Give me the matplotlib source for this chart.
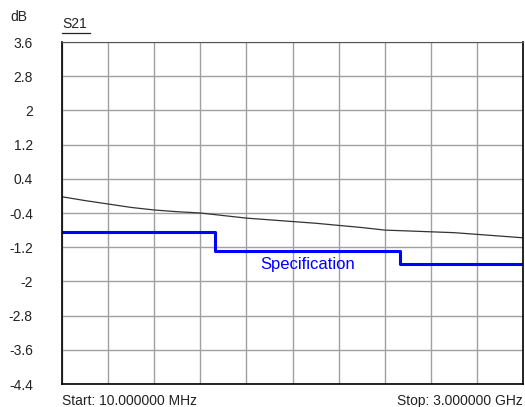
import numpy as np
import matplotlib.pyplot as plt

plt.rcParams['font.family'] = ['Liberation Sans', 'DejaVu Sans']

# S21 trace, frequency in MHz
freq = [10, 160, 310, 459, 609, 758, 908, 1057, 1207, 1357, 1506, 1656,
        1805, 1955, 2104, 2254, 2403, 2553, 2703, 2852, 3000]
s21 = [-0.02, -0.11, -0.19, -0.27, -0.33, -0.37, -0.40, -0.46, -0.52, -0.56,
       -0.60, -0.64, -0.69, -0.74, -0.80, -0.82, -0.84, -0.86, -0.90, -0.94, -0.98]

# specification limit steps
spec_freq = [10, 1000, 1000, 2200, 2200, 3000]
spec_db = [-0.85, -0.85, -1.3, -1.3, -1.6, -1.6]

yticks = [3.6, 2.8, 2, 1.2, 0.4, -0.4, -1.2, -2, -2.8, -3.6, -4.4]
ytick_labels = ["3.6", "2.8", "2", "1.2", "0.4", "-0.4", "-1.2", "-2", "-2.8", "-3.6", "-4.4"]

W, H = 525, 407
fig = plt.figure(figsize=(W / 100, H / 100), dpi=100)
ax = fig.add_axes([62 / W, 1 - 384 / H, 461 / W, 342 / H])

ax.plot(freq, s21, color='#333333', lw=0.9)
ax.plot(spec_freq, spec_db, color='#0000ff', lw=2.2)
ax.text(1602, -1.71, "Specification", color='#0000ff', fontsize=12,
        ha='center', va='baseline')

ax.set_xlim(10, 3000)
ax.set_ylim(-4.4, 3.6)
ax.set_xticks(np.linspace(10, 3000, 11))
ax.set_xticklabels([])
ax.set_yticks(yticks)
ax.set_yticklabels(ytick_labels, fontsize=10, color='#222222')
ax.tick_params(length=0)
ax.tick_params(axis='y', pad=21)
ax.grid(True, color='#a0a0a0', lw=1)
for side in ['left', 'bottom', 'right']:
    ax.spines[side].set_color('black')
    ax.spines[side].set_linewidth(1.2)
ax.spines['top'].set_color('#555555')

fig.text(10 / W, 1 - 21 / H, "dB", fontsize=10, va='baseline', color='#222222')
fig.text(62 / W, 1 - 28 / H, "S21", fontsize=10, va='baseline', color='#222222')
fig.add_artist(plt.Line2D([62 / W, 90 / W], [1 - 33 / H, 1 - 33 / H],
                          color='#222222', lw=0.9))
fig.text(62 / W, 1 - 405 / H, "Start: 10.000000 MHz", fontsize=10,
         va='baseline', color='#222222')
fig.text(523 / W, 1 - 405 / H, "Stop: 3.000000 GHz", fontsize=10,
         va='baseline', ha='right', color='#222222')

fig.savefig("out.png", dpi=100)
